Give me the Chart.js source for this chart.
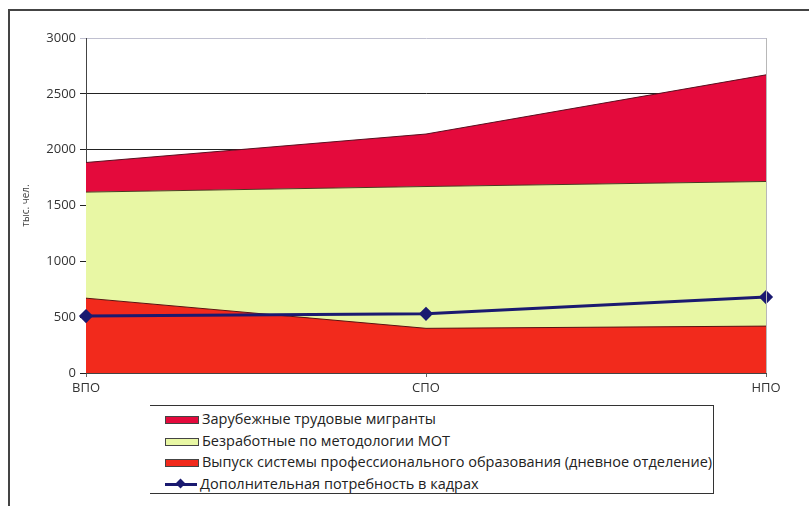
<!DOCTYPE html>
<html>
<head>
<meta charset="utf-8">
<script src="https://cdn.jsdelivr.net/npm/chart.js@4/dist/chart.umd.min.js"></script>
<style>
	body { margin: 0; background: #fff; }
	#wrap { position: relative; width: 809px; height: 506px; }
	#frame { position: absolute; left: 8px; top: 9px; width: 820px; height: 520px; border-top: 2px solid #444; border-left: 2px solid #444; }
	#legend { position: absolute; left: 150px; top: 405px; width: 563px; height: 87px; border: 1px solid #333; border-left: none; background: #fff; font: 14.5px "Open Sans", sans-serif; color: #222; }
	#legend div { position: absolute; left: 15px; height: 20px; line-height: 20px; white-space: nowrap; }
	#legend span { display: inline-block; position: relative; width: 32px; height: 6px; margin-right: 3px; vertical-align: middle; border: 1px solid #444; }
	#legend i { position: absolute; left: 12px; top: -3px; width: 7px; height: 7px; background: #1a1a70; transform: rotate(45deg); }
</style>
</head>
<body>
<div id="wrap">
	<div id="frame"></div>
	<canvas id="chart" width="809" height="506"></canvas>
	<div id="legend"></div>
</div>
<script>
// categories and values (тыс. чел.)
const levels = [ 'ВПО', 'СПО', 'НПО' ];
const graduates = [ 670, 400, 420 ];
const unemployed = [ 950, 1270, 1295 ];
const migrants = [ 265, 470, 955 ];
const demand = [ 510, 530, 680 ];
const yTicks = [ 0, 500, 1000, 1500, 2000, 2500, 3000 ];

const font = { family: 'Open Sans', size: 13 };

// gray border on the right edge of the plot
const plotEdge = {
	id: 'plotEdge',
	afterDraw( chart ) {
		const a = chart.chartArea;
		const c = chart.ctx;
		c.save();
		c.strokeStyle = '#b8b8b8';
		c.lineWidth = 1;
		c.beginPath();
		c.moveTo( a.right + 0.5, a.top );
		c.lineTo( a.right + 0.5, a.bottom );
		c.stroke();
		c.restore();
	},
};

const chart = new Chart( document.getElementById( 'chart' ), {
	type: 'line',
	data: {
		labels: levels,
		datasets: [
			{
				label: 'Выпуск системы профессионального образования (дневное отделение)',
				data: graduates,
				stack: 'area',
				fill: 'origin',
				backgroundColor: '#f22a1c',
				borderColor: '#5a1410',
				borderWidth: 1,
				pointRadius: 0,
				order: 2,
			},
			{
				label: 'Безработные по методологии МОТ',
				data: unemployed,
				stack: 'area',
				fill: '-1',
				backgroundColor: '#e8f7a4',
				borderColor: '#4a3a20',
				borderWidth: 1,
				pointRadius: 0,
				order: 2,
			},
			{
				label: 'Зарубежные трудовые мигранты',
				data: migrants,
				stack: 'area',
				fill: '-1',
				backgroundColor: '#e40a3c',
				borderColor: '#5a1020',
				borderWidth: 1,
				pointRadius: 0,
				order: 2,
			},
			{
				label: 'Дополнительная потребность в кадрах',
				data: demand,
				stack: 'line',
				fill: false,
				backgroundColor: '#1a1a70',
				borderColor: '#1a1a70',
				borderWidth: 3,
				pointStyle: 'rectRot',
				pointRadius: 5,
				pointBackgroundColor: '#1a1a70',
				order: 1,
			},
		],
	},
	options: {
		responsive: false,
		animation: false,
		layout: { padding: { left: 18, right: 43, top: 38, bottom: 100 } },
		plugins: {
			legend: { display: false },
			tooltip: { enabled: false },
		},
		scales: {
			x: {
				offset: false,
				grid: { drawOnChartArea: false, drawTicks: true, tickLength: 4, color: '#666' },
				border: { color: '#444' },
				ticks: { font, color: '#333', padding: 3 },
				afterFit: s => { s.height = 33; },
			},
			y: {
				stacked: true,
				min: 0,
				max: 3000,
				afterBuildTicks: s => { s.ticks = yTicks.map( v => ( { value: v } ) ); },
				grid: {
					color: c => ( c.tick && c.tick.value === 3000 ? '#c0c0d0' : '#222' ),
					tickLength: 6,
				},
				border: { color: '#444' },
				ticks: { font, color: '#333', padding: 4, callback: v => String( v ) },
				title: { display: true, text: 'тыс. чел.', font: { family: 'Open Sans', size: 10 }, color: '#444', padding: 2 },
				afterFit: s => { s.width = 68; },
			},
		},
	},
	plugins: [ plotEdge ],
} );

// legend box below the chart, top series first
const legendRows = [ 2, 1, 0, 3 ];
const legendEl = document.getElementById( 'legend' );
legendRows.forEach( ( idx, i ) => {
	const ds = chart.data.datasets[ idx ];
	const row = document.createElement( 'div' );
	row.style.top = 3 + i * 21.5 + 'px';
	const sw = document.createElement( 'span' );
	if ( idx === 3 ) {
		sw.style.height = '3px';
		sw.style.border = 'none';
		sw.appendChild( document.createElement( 'i' ) );
	}
	sw.style.background = ds.backgroundColor;
	row.appendChild( sw );
	row.appendChild( document.createTextNode( ds.label ) );
	legendEl.appendChild( row );
} );
</script>
</body>
</html>
